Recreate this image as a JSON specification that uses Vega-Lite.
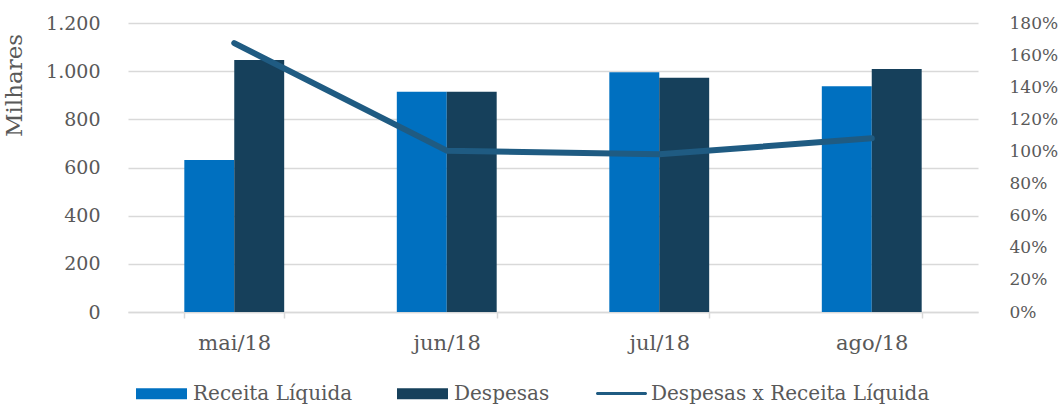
{
  "$schema": "https://vega.github.io/schema/vega-lite/v6.json",
  "width": 850,
  "height": 289,
  "autosize": {"type": "none"},
  "padding": {"left": 128, "top": 23, "right": 85, "bottom": 94},
  "background": "white",
  "config": {"view": {"stroke": null}, "font": "DejaVu Serif"},
  "datasets": {
    "barras": [
      {"mes": "mai/18", "serie": "Receita Líquida", "valor": 631},
      {"mes": "mai/18", "serie": "Despesas", "valor": 1046},
      {"mes": "jun/18", "serie": "Receita Líquida", "valor": 915},
      {"mes": "jun/18", "serie": "Despesas", "valor": 915},
      {"mes": "jul/18", "serie": "Receita Líquida", "valor": 995},
      {"mes": "jul/18", "serie": "Despesas", "valor": 973},
      {"mes": "ago/18", "serie": "Receita Líquida", "valor": 937},
      {"mes": "ago/18", "serie": "Despesas", "valor": 1009}
    ],
    "razao": [
      {"mes": "mai/18", "razao": 1.675},
      {"mes": "jun/18", "razao": 1.005},
      {"mes": "jul/18", "razao": 0.982},
      {"mes": "ago/18", "razao": 1.082}
    ]
  },
  "layer": [
    {
      "data": {"name": "barras"},
      "mark": {"type": "bar"},
      "encoding": {
        "x": {
          "field": "mes", "type": "nominal",
          "sort": ["mai/18", "jun/18", "jul/18", "ago/18"],
          "scale": {"paddingInner": 0.53, "paddingOuter": 0.265},
          "axis": {
            "title": null, "labelAngle": 0,
            "domainColor": "#d9d9d9", "domainWidth": 1.5,
            "tickColor": "#d9d9d9", "tickWidth": 1.5, "tickSize": 6,
            "tickBand": "extent",
            "labelFontSize": 21, "labelColor": "#595959", "labelPadding": 14
          }
        },
        "xOffset": {
          "field": "serie", "type": "nominal",
          "sort": ["Receita Líquida", "Despesas"],
          "scale": {"paddingInner": 0, "paddingOuter": 0}
        },
        "y": {
          "field": "valor", "type": "quantitative",
          "scale": {"domain": [0, 1200]},
          "axis": {
            "title": "Milhares", "titleFontSize": 23, "titleFontWeight": "normal",
            "titleColor": "#595959", "titleX": -102, "titleY": 62, "titleAlign": "center",
            "values": [0, 200, 400, 600, 800, 1000, 1200],
            "labelExpr": "replace(format(datum.value, ','), ',', '.')",
            "domain": false, "ticks": false, "labelPadding": 28,
            "labelFontSize": 19, "labelColor": "#595959",
            "gridColor": "#d9d9d9", "gridWidth": 1.5
          }
        },
        "color": {
          "field": "serie", "type": "nominal",
          "sort": ["Receita Líquida", "Despesas"],
          "scale": {"domain": ["Receita Líquida", "Despesas"], "range": ["#0070C0", "#16405B"]},
          "legend": {
            "orient": "none", "legendX": 8, "legendY": 345, "direction": "horizontal",
            "title": null, "symbolType": "M-1,-0.216H1V0.216H-1Z", "symbolSize": 2601,
            "symbolStrokeWidth": 0, "labelFontSize": 20, "labelColor": "#595959",
            "labelOffset": 6, "columnPadding": 44, "labelLimit": 400
          }
        }
      }
    },
    {
      "data": {"name": "razao"},
      "mark": {"type": "line", "strokeWidth": 6, "strokeCap": "round", "strokeJoin": "round"},
      "encoding": {
        "x": {"field": "mes", "type": "nominal", "sort": ["mai/18", "jun/18", "jul/18", "ago/18"]},
        "y": {
          "field": "razao", "type": "quantitative",
          "scale": {"domain": [0, 1.8]},
          "axis": {
            "orient": "right", "title": null,
            "values": [0, 0.2, 0.4, 0.6, 0.8, 1.0, 1.2, 1.4, 1.6, 1.8],
            "format": ".0%", "domain": false, "ticks": false, "grid": false,
            "labelPadding": 31, "labelFontSize": 17, "labelColor": "#595959"
          }
        },
        "stroke": {
          "datum": "Despesas x Receita Líquida", "type": "nominal",
          "scale": {"range": ["#1F5B82"]},
          "legend": {
            "orient": "none", "legendX": 468, "legendY": 345, "direction": "horizontal",
            "title": null,
            "symbolType": "M-0.94,-0.06H0.94A0.06,0.06 0 0 1 0.94,0.06H-0.94A0.06,0.06 0 0 1 -0.94,-0.06Z",
            "symbolSize": 2601, "symbolFillColor": "#1F5B82", "symbolStrokeWidth": 0,
            "labelFontSize": 20, "labelColor": "#595959", "labelOffset": 4, "labelLimit": 400
          }
        }
      }
    }
  ],
  "resolve": {"scale": {"y": "independent"}}
}
